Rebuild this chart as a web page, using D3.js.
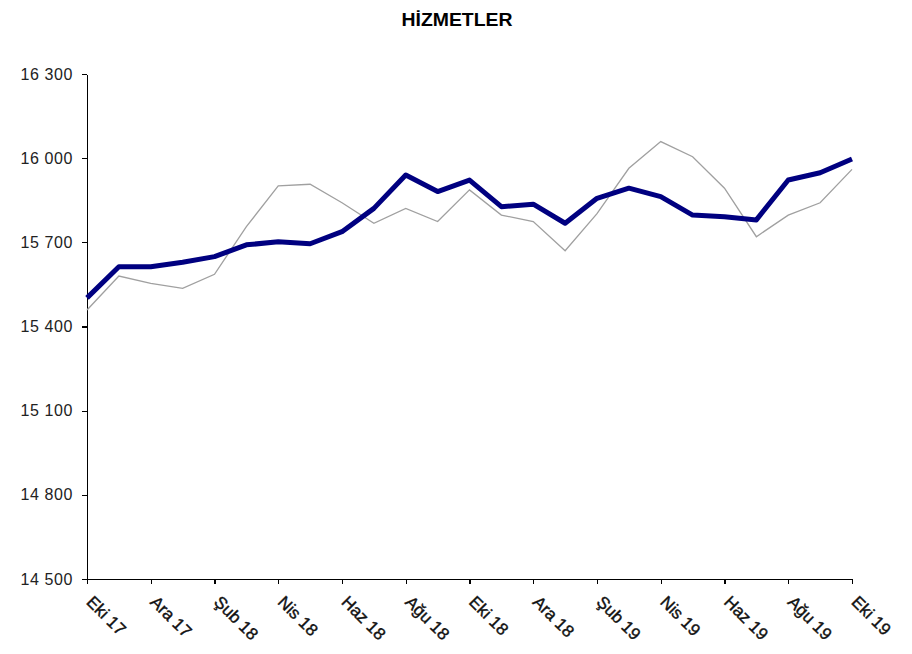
<!DOCTYPE html>
<html lang="tr">
<head>
  <meta charset="UTF-8">
  <title>Hizmetler</title>
  <script src="https://d3js.org/d3.v7.min.js"></script>
  <style>
    body {
      margin: 0;
      background: #fff;
      font-family: Arial, "Liberation Sans", sans-serif;
    }
    .title {
      font-size: 18px;
      font-weight: bold;
      fill: #000;
      text-anchor: middle;
    }
    .axis path,
    .axis line {
      stroke: #000;
      stroke-width: 1.3;
      shape-rendering: crispEdges;
    }
    .axis text {
      font-family: Arial, "Liberation Sans", sans-serif;
      fill: #222;
    }
    .trend {
      fill: none;
      stroke: #000080;
      stroke-width: 5;
      stroke-linejoin: round;
    }
    .raw {
      fill: none;
      stroke: #a0a0a0;
      stroke-width: 1.3;
    }
  </style>
</head>
<body>
  <div id="chart"></div>
  <script>
    // months, Eki 17 .. Eki 19
    const months = [
      "Eki 17", "Kas 17", "Ara 17", "Oca 18", "Şub 18", "Mar 18", "Nis 18",
      "May 18", "Haz 18", "Tem 18", "Ağu 18", "Eyl 18", "Eki 18", "Kas 18",
      "Ara 18", "Oca 19", "Şub 19", "Mar 19", "Nis 19", "May 19", "Haz 19",
      "Tem 19", "Ağu 19", "Eyl 19", "Eki 19"
    ];

    // thick navy line
    const trendValues = [
      15502, 15613, 15613, 15629, 15649, 15691, 15702, 15695, 15738, 15821,
      15940, 15881, 15922, 15827, 15836, 15768, 15857, 15893, 15863, 15797,
      15791, 15780, 15922, 15948, 15997
    ];

    // thin grey line
    const rawValues = [
      15459, 15580, 15554, 15536, 15586, 15756, 15901, 15907, 15841, 15768,
      15821, 15774, 15887, 15797, 15774, 15670, 15802, 15964, 16059, 16005,
      15893, 15720, 15797, 15841, 15960
    ];

    const yTicks = [14500, 14800, 15100, 15400, 15700, 16000, 16300];
    const xTickLabels = months.filter((m, i) => i % 2 === 0);

    const svgWidth = 912;
    const svgHeight = 654;
    const margin = { top: 74, left: 87 };
    const width = 852 - margin.left;
    const height = 579 - margin.top;

    const svg = d3.select("#chart").append("svg")
      .attr("width", svgWidth)
      .attr("height", svgHeight);

    svg.append("text")
      .attr("class", "title")
      .attr("x", 457)
      .attr("y", 26)
      .attr("textLength", 111)
      .attr("lengthAdjust", "spacingAndGlyphs")
      .text("HİZMETLER");

    const g = svg.append("g")
      .attr("transform", `translate(${margin.left},${margin.top})`);

    const x = d3.scalePoint()
      .domain(months)
      .range([0, width]);

    const y = d3.scaleLinear()
      .domain([14500, 16300])
      .range([height, 0]);

    const fmt = d => d3.format(",")(d).replace(",", " ");

    const yAxis = g.append("g")
      .attr("class", "axis")
      .call(d3.axisLeft(y).tickValues(yTicks).tickFormat(fmt).tickSize(5).tickSizeOuter(0).tickPadding(9));

    yAxis.selectAll(".tick text")
      .style("font-size", "16px")
      .style("letter-spacing", "0.6px");

    const xAxis = g.append("g")
      .attr("class", "axis")
      .attr("transform", `translate(0,${height})`)
      .call(d3.axisBottom(x).tickValues(xTickLabels).tickSize(5).tickSizeOuter(0));

    // labels look a touch heavier than plain Arial in the original
    xAxis.selectAll(".tick text")
      .attr("text-anchor", "start")
      .attr("dy", null)
      .attr("y", null)
      .attr("transform", "translate(-2,24) rotate(45)")
      .style("font-size", "17px")
      .style("fill", "#111")
      .style("stroke", "#111")
      .style("stroke-width", "0.4px");

    const line = d3.line()
      .x((d, i) => x(months[i]))
      .y(d => y(d));

    g.append("path")
      .datum(rawValues)
      .attr("class", "raw")
      .attr("d", line);

    g.append("path")
      .datum(trendValues)
      .attr("class", "trend")
      .attr("d", line);
  </script>
</body>
</html>
